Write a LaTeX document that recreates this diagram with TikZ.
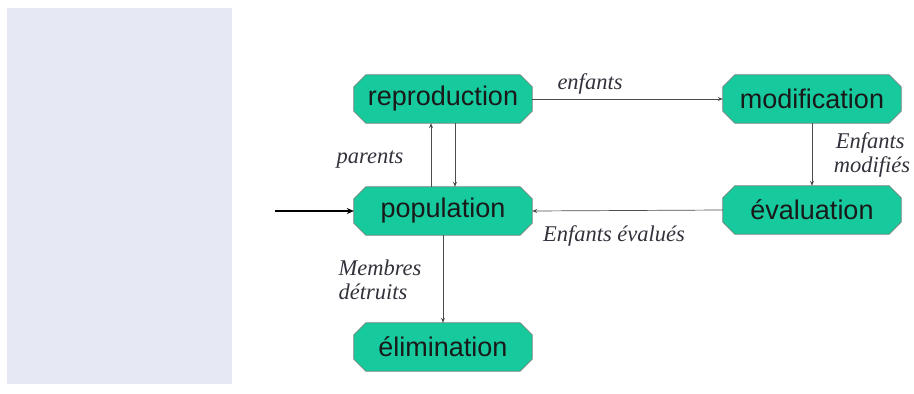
\documentclass[tikz,border=0pt]{standalone}
\usepackage{fontspec}
\setmainfont{Liberation Serif}
\setsansfont{Liberation Sans}
\usetikzlibrary{arrows.meta,calc,backgrounds}
\definecolor{boxfill}{RGB}{22,202,158}
\definecolor{boxline}{RGB}{110,130,120}
\definecolor{panel}{RGB}{230,232,244}
\definecolor{lbl}{RGB}{50,50,60}
\tikzset{
  stepbox/.style={rectangle, minimum width=178pt, minimum height=48pt,
    inner sep=0pt, font=\sffamily\fontsize{27}{29}\selectfont, text=black!90},
  octo/.style={draw=boxline, line width=0.8pt, fill=boxfill},
  conn/.style={draw=black!70, line width=0.7pt, -{Stealth[length=5pt,width=4pt]}},
  lab/.style={font=\rmfamily\itshape\fontsize{22.5}{24}\selectfont, text=lbl, align=left, inner sep=0pt}
}
\newcommand{\octoframe}[1]{%
  \path[octo] ($(#1.north west)+(12,0)$) -- ($(#1.north east)+(-12,0)$) -- ($(#1.north east)+(0,12)$)
   -- ($(#1.south east)+(0,-12)$) -- ($(#1.south east)+(-12,0)$) -- ($(#1.south west)+(12,0)$)
   -- ($(#1.south west)+(0,-12)$) -- ($(#1.north west)+(0,12)$) -- cycle;}
\begin{document}
\begin{tikzpicture}[x=1pt,y=-1pt]
\useasboundingbox (0,0) rectangle (914,394);
\fill[panel] (7,8) rectangle (232,384);
\node[stepbox] (rep) at (443,99) {reproduction};
\node[stepbox] (mod) at (812,99) {modification};
\node[stepbox] (pop) at (443,211) {population};
\node[stepbox] (eva) at (812,210) {évaluation};
\node[stepbox] (eli) at (443,347) {élimination};
\begin{pgfonlayer}{background}
\octoframe{rep}\octoframe{mod}\octoframe{pop}\octoframe{eva}\octoframe{eli}
\end{pgfonlayer}
\coordinate (in) at (275,211);
\draw[conn] (rep) -- (mod);
\draw[conn] (pop.north -| 431,0) -- (rep.south -| 431,0);
\draw[conn] (rep.south -| 455,0) -- (pop.north -| 455,0);
\draw[conn] (mod) -- (eva);
\draw[conn] (eva.west) -- (pop.east);
\draw[conn] (pop) -- (eli);
\draw[line width=1.6pt, -{Stealth[length=7pt,width=6pt]}] (in) -- (pop.west);
\node[lab] (l1) at (590,84) {enfants};
\node[lab] (l2) at (370,160) {parents};
\node[lab] (l3) at (872,155) {\hspace*{2pt}Enfants\\modifiés};
\node[lab] (l4) at (614,236) {Enfants évalués};
\node[lab] (l5) at (380,280) {Membres\\détruits};
\end{tikzpicture}
\end{document}
